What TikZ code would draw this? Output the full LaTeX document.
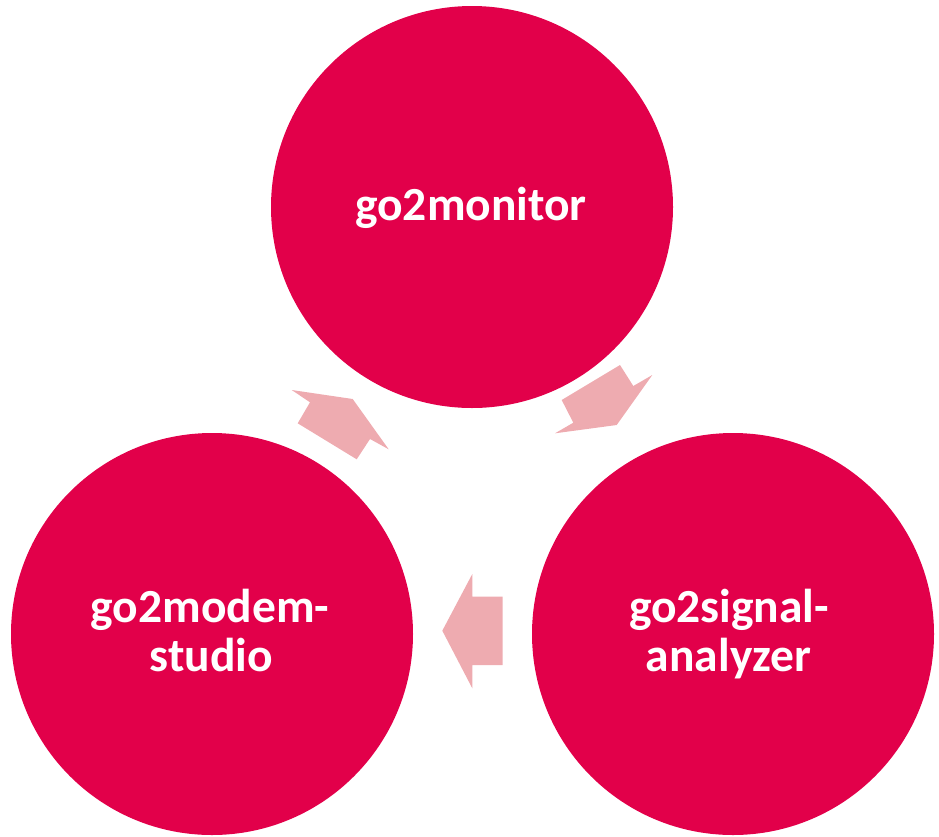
\documentclass[tikz,border=0pt]{standalone}
\usepackage{fontspec}
\setmainfont{Carlito}
\definecolor{circred}{HTML}{E2004A}
\definecolor{arrpink}{HTML}{EEABB0}
\begin{document}
\begin{tikzpicture}[x=1pt,y=-1pt,
  bubble/.style={circle,fill=circred,draw=none,minimum size=402pt,inner sep=0pt},
  lbl/.style={text=white,font=\fontsize{47.5}{49}\selectfont\bfseries,anchor=base,inner sep=0pt},
  blockarrow/.style={fill=arrpink,draw=none}]
\useasboundingbox (0,0) rectangle (939,836);
\node[bubble] (mon) at (472,207) {};
\node[bubble] (mod) at (212,634) {};
\node[bubble] (sig) at (733,634) {};
\node[lbl] (monA) at (471,220) {go2monitor};
\node[lbl] (modA) at (210,622) {go2modem-};
\node[lbl] (modB) at (211.5,671) {studio};
\node[lbl] (sigA) at (729,622) {go2signal-};
\node[lbl] (sigB) at (728.5,671) {analyzer};
% arrow top -> right
\fill[blockarrow] (620,365) -- (633.3,386) -- (652.3,375) -- (616.7,425)
  -- (555,433.3) -- (573.3,422.7) -- (561.7,400) -- cycle;
% arrow right -> left
\fill[blockarrow] (442.3,630.7) -- (472.3,574) -- (472.3,596.7) -- (502.7,596.7)
  -- (502.7,665) -- (472.3,665) -- (472.3,688.3) -- cycle;
% arrow left -> top
\fill[blockarrow] (291.7,390) -- (352.7,399) -- (388.7,449.3) -- (370,439)
  -- (356.7,459.3) -- (297.7,423.3) -- (310,402.3) -- cycle;
\end{tikzpicture}
\end{document}
